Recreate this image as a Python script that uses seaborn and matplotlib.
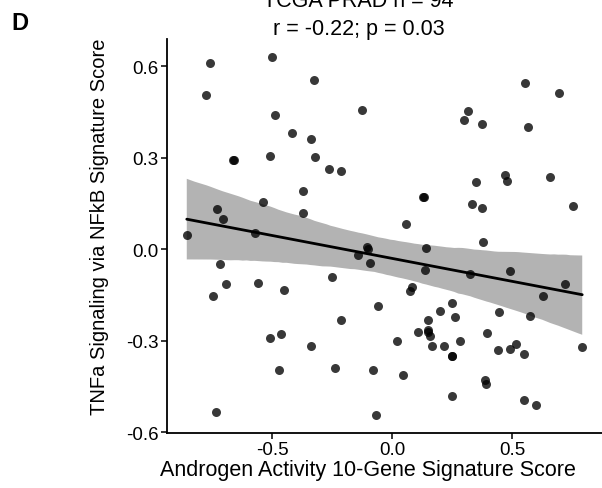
import numpy as np
import pandas as pd
import matplotlib
matplotlib.use("Agg")
import matplotlib.pyplot as plt
import seaborn as sns

# Data (TCGA PRAD, n = 94)
androgen_score = [
    -0.757, -0.502, -0.775, -0.488, -0.415, -0.340, -0.664, -0.659, -0.509, -0.371,
    -0.537, -0.730, -0.703, -0.372, -0.855, -0.571, -0.325, -0.124, -0.320, -0.264,
    -0.215, 0.127, 0.134, 0.058, 0.554, 0.694, 0.314, 0.300, 0.372, 0.566,
    0.471, 0.478, 0.349, 0.658, 0.332, 0.375, 0.754, 0.379, -0.715, -0.693,
    -0.558, -0.746, -0.451, -0.463, -0.508, -0.339, -0.472, -0.732, -0.105, -0.102,
    -0.143, -0.094, 0.142, 0.137, -0.251, 0.081, 0.073, -0.057, -0.212, 0.199,
    0.247, 0.148, 0.109, 0.149, 0.150, 0.158, 0.166, 0.217, 0.247, 0.251,
    0.019, -0.238, -0.078, 0.047, -0.069, 0.249, 0.324, 0.490, 0.718, 0.629,
    0.263, 0.446, 0.575, 0.395, 0.282, 0.517, 0.492, 0.440, 0.549, 0.791,
    0.386, 0.390, 0.550, 0.599,
]
tnfa_score = [
    0.611, 0.630, 0.506, 0.441, 0.380, 0.362, 0.294, 0.291, 0.304, 0.190,
    0.155, 0.133, 0.100, 0.119, 0.047, 0.053, 0.556, 0.457, 0.303, 0.263,
    0.257, 0.171, 0.171, 0.083, 0.544, 0.511, 0.454, 0.424, 0.410, 0.400,
    0.243, 0.225, 0.221, 0.238, 0.148, 0.134, 0.142, 0.023, -0.049, -0.114,
    -0.111, -0.155, -0.133, -0.278, -0.292, -0.319, -0.397, -0.534, 0.007, 0.001,
    -0.019, -0.045, 0.005, -0.069, -0.092, -0.125, -0.137, -0.187, -0.231, -0.203,
    -0.176, -0.231, -0.272, -0.265, -0.273, -0.285, -0.318, -0.318, -0.352, -0.352,
    -0.301, -0.391, -0.396, -0.413, -0.543, -0.481, -0.082, -0.072, -0.113, -0.154,
    -0.223, -0.207, -0.219, -0.275, -0.302, -0.310, -0.326, -0.332, -0.344, -0.321,
    -0.429, -0.442, -0.496, -0.510,
]
x_ticks = [-0.5, 0.0, 0.5]
y_ticks = [-0.6, -0.3, 0.0, 0.3, 0.6]
title_line1 = "TCGA PRAD n = 94"
title_line2 = "r = -0.22; p = 0.03"
x_label = "Androgen Activity 10-Gene Signature Score"
y_label = "TNFa Signaling via NFkB Signature Score"
panel_tag = "D"

df = pd.DataFrame({"androgen": androgen_score, "tnfa": tnfa_score})

sns.set_style("ticks")
plt.rcParams["font.family"] = ["Liberation Sans", "DejaVu Sans"]

W, H = 602, 489
fig = plt.figure(figsize=(W / 100, H / 100), dpi=100)
left_px, right_px, top_px, bottom_px = 167, 602, 40.2, 433.6
ax = fig.add_axes([left_px / W, 1 - bottom_px / H,
                   (right_px - left_px) / W, (bottom_px - top_px) / H])

# regression line + CI band
sns.regplot(data=df, x="androgen", y="tnfa", ax=ax, scatter=False, ci=95,
            seed=1, color="black", line_kws={"lw": 2.0, "zorder": 3})
for coll in ax.collections:
    coll.set_facecolor("#b3b3b3")
    coll.set_edgecolor("none")
    coll.set_alpha(1.0)
    coll.set_zorder(1)

sns.scatterplot(data=df, x="androgen", y="tnfa", ax=ax, color="black",
                alpha=0.78, s=42, linewidth=0, zorder=2)

xr = max(androgen_score) - min(androgen_score)
yr = max(tnfa_score) - min(tnfa_score)
ax.set_xlim(min(androgen_score) - 0.05 * xr, max(androgen_score) + 0.05 * xr)
ax.set_ylim(min(tnfa_score) - 0.05 * yr, max(tnfa_score) + 0.05 * yr)

ax.set_xticks(x_ticks)
ax.set_xticklabels([f"{t:.1f}" for t in x_ticks])
ax.set_yticks(y_ticks)
ax.set_yticklabels([f"{t:.1f}" for t in y_ticks])
ax.tick_params(axis="both", labelsize=13.5, length=4, width=1.1, color="black",
               labelcolor="black", pad=2)

for side in ["top", "right"]:
    ax.spines[side].set_visible(False)
for side in ["left", "bottom"]:
    ax.spines[side].set_color("black")
    ax.spines[side].set_linewidth(1.3)

ax.set_xlabel(x_label, fontsize=15.5, color="black")
ax.xaxis.set_label_coords(0.462, -0.068)
ax.set_ylabel(y_label, fontsize=14.5, color="black")
ax.yaxis.set_label_coords(-0.133, 0.525)

fig.text(358.5 / W, 1 - 7 / H, title_line1, ha="center", va="baseline",
         fontsize=15.5, color="black")
fig.text(358.5 / W, 1 - 34.5 / H, title_line2, ha="center", va="baseline",
         fontsize=15.5, color="black")
fig.text(19.5 / W, 1 - 23.5 / H, panel_tag, ha="center", va="center",
         fontsize=17, fontweight="bold", color="black")

fig.savefig("out.png", dpi=100)
